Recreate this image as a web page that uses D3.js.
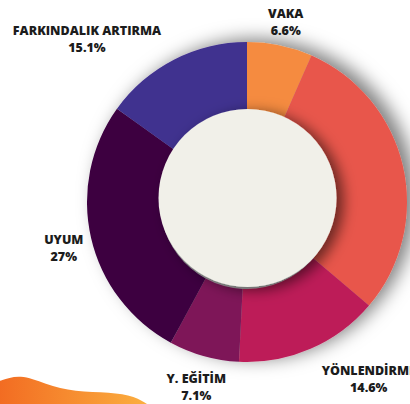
<!DOCTYPE html>
<html>
<head>
<meta charset="utf-8">
<script src="https://cdn.jsdelivr.net/npm/d3@7"></script>
<style>
  html, body { margin: 0; padding: 0; background: #fff; }
  svg { display: block; }
  text { font-family: "Open Sans", sans-serif; font-weight: 800; font-size: 12.5px; fill: #1c1c1c; }
</style>
</head>
<body>
<div id="chart"></div>
<script>
// chart data (the second slice has its label outside the picture)
var categories = ["VAKA", "", "YÖNLENDİRME", "Y. EĞİTİM", "UYUM", "FARKINDALIK ARTIRMA"];
var values = [6.6, 29.6, 14.6, 7.1, 27, 15.1];
var colors = ["#f58b40", "#e8564b", "#bd1f58", "#7e1959", "#3c0540", "#41308f"];

function init() {
    var width = 410;
    var height = 404;
    var cx = 247, cy = 202;
    var outerR = 160, innerR = 89, labelR = 188;

    var svg = d3.select("#chart")
        .append("svg")
        .attr("width", width)
        .attr("height", height);

    var defs = svg.append("defs");

    // soft grey shadow round the ring
    var ringShadow = defs.append("filter")
        .attr("id", "ringShadow")
        .attr("x", "-30%").attr("y", "-30%")
        .attr("width", "160%").attr("height", "160%");
    ringShadow.append("feDropShadow")
        .attr("dx", 9).attr("dy", -3)
        .attr("stdDeviation", 9)
        .attr("flood-color", "#000")
        .attr("flood-opacity", 0.5);

    // the centre disk throws a shadow onto the ring
    var diskShadow = defs.append("filter")
        .attr("id", "diskShadow")
        .attr("x", "-30%").attr("y", "-30%")
        .attr("width", "160%").attr("height", "160%");
    diskShadow.append("feDropShadow")
        .attr("dx", 7).attr("dy", 3)
        .attr("stdDeviation", 7)
        .attr("flood-color", "#000")
        .attr("flood-opacity", 0.55);

    var grad = defs.append("linearGradient")
        .attr("id", "waveGrad")
        .attr("x1", "0%").attr("x2", "100%")
        .attr("y1", "0%").attr("y2", "0%");
    grad.append("stop").attr("offset", "0%").attr("stop-color", "#f26a21");
    grad.append("stop").attr("offset", "100%").attr("stop-color", "#fbb040");

    // orange wave in the lower left corner (decoration)
    var wave = d3.line().curve(d3.curveBasis);
    svg.append("path")
        .attr("d", wave([[-5, 382], [0, 381], [20, 374], [45, 384], [75, 392], [110, 392], [135, 396], [150, 406]]) + "L150,410L-5,410Z")
        .attr("fill", "url(#waveGrad)");

    var pie = d3.pie().sort(null).value(function (d) { return d; });
    var arcs = pie(values);

    var arc = d3.arc().innerRadius(innerR - 2).outerRadius(outerR);

    var ring = svg.append("g")
        .attr("transform", "translate(" + cx + "," + cy + ")")
        .attr("filter", "url(#ringShadow)");

    ring.selectAll("path")
        .data(arcs)
        .enter()
        .append("path")
        .attr("d", arc)
        .attr("fill", function (d, i) { return colors[i]; });

    svg.append("circle")
        .attr("cx", cx + 0.5)
        .attr("cy", cy - 4)
        .attr("r", innerR)
        .attr("fill", "#f1f0e9")
        .attr("filter", "url(#diskShadow)");

    // labels: name on top, share below
    var anchors = ["middle", "start", "start", "middle", "middle", "end"];

    var labels = svg.append("g")
        .attr("transform", "translate(" + cx + "," + cy + ")");

    labels.selectAll("g")
        .data(arcs.filter(function (d, i) { return categories[i] !== ""; }))
        .enter()
        .append("g")
        .each(function (d) {
            var i = d.index;
            var a = (d.startAngle + d.endAngle) / 2;
            var x = labelR * Math.sin(a);
            var y = -labelR * Math.cos(a);
            var g = d3.select(this);
            var name = g.append("text")
                .attr("text-anchor", "middle")
                .attr("y", 0)
                .text(categories[i]);
            g.append("text")
                .attr("text-anchor", "middle")
                .attr("y", 17)
                .text(values[i] + "%");
            var w = name.node().getComputedTextLength();
            var shift = anchors[i] === "start" ? w / 2 : anchors[i] === "end" ? -w / 2 : 0;
            g.attr("transform", "translate(" + (x + shift) + "," + y + ")");
        });
}

window.onload = init;
</script>
</body>
</html>
